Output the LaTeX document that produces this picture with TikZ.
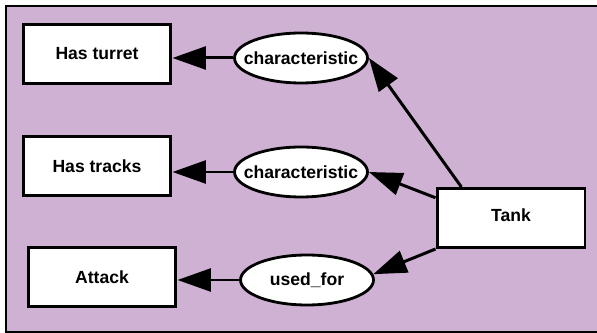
\documentclass[tikz,border=0pt]{standalone}
\usepackage{fontspec}
\setmainfont{Liberation Sans}
\usetikzlibrary{arrows.meta,shapes.geometric}
\definecolor{lilac}{RGB}{207,177,212}
\tikzset{
  concept/.style={draw=black, fill=white, line width=1.7pt, minimum width=2.96cm, minimum height=1.18cm, font=\bfseries\fontsize{10}{12}\selectfont, inner sep=0pt},
  relation/.style={ellipse, draw=black, fill=white, line width=1.6pt, minimum width=2.66cm, minimum height=1cm, font=\bfseries\fontsize{10}{12}\selectfont, inner xsep=-0.23cm, inner ysep=0pt},
  link/.style={line width=1.7pt, -{Triangle[length=19pt, width=13pt]}}
}
\begin{document}
\begin{tikzpicture}[x=0.02cm, y=-0.02cm]
\useasboundingbox (0,0) rectangle (597,333);
\fill[lilac] (6,6) rectangle (597,332);
\draw[line width=1.3pt] (597,6)--(6,6)--(6,332)--(597,332);
\node[concept] (turret) at (97,54) {Has turret};
\node[concept] (tracks) at (97,166) {Has tracks};
\node[concept] (attack) at (102,277) {Attack};
\node[concept] (tank) at (511,218) {\raisebox{3.4pt}{Tank}};
\node[relation] (char1) at (301,58) {characteristic};
\node[relation] (char2) at (301,172) {characteristic};
\node[relation] (usedfor) at (307,280) {used\_for};
\draw[link] (char1) -- (char1 -| turret.east);
\draw[link] (char2) -- (char2 -| tracks.east);
\draw[link] (usedfor) -- (usedfor -| attack.east);
\draw[link] (tank.148) -- (char1.east);
\draw[link] (tank.165) -- (char2.east);
\draw[link] (tank.south west) -- (usedfor.5);
\end{tikzpicture}
\end{document}
